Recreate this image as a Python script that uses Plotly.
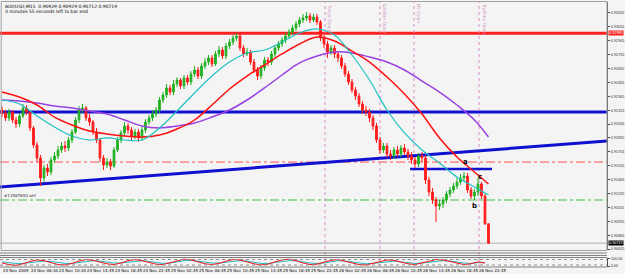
import plotly.graph_objects as go

# ---------------- data (AUDUSD, M15 chart, sampled every 30 min) ----------------
bar_open = [0.92157,0.92125,0.92071,0.92135,0.92049,0.92006,0.92092,0.92179,0.92135,0.91963,
            0.91779,0.91639,0.91423,0.91531,0.91487,0.91617,0.91660,0.91725,0.91768,0.91747,
            0.91833,0.91919,0.92049,0.92157,0.92179,0.92071,0.92027,0.91919,0.91833,0.91639,
            0.91563,0.91595,0.91552,0.91725,0.91833,0.91909,0.91984,0.91941,0.91876,0.91919,
            0.91855,0.91941,0.92027,0.92071,0.92114,0.92157,0.92265,0.92319,0.92395,0.92351,
            0.92438,0.92481,0.92416,0.92503,0.92459,0.92546,0.92589,0.92524,0.92632,0.92675,
            0.92719,0.92654,0.92762,0.92805,0.92740,0.92848,0.92891,0.92935,0.92956,0.92827,
            0.92762,0.92783,0.92675,0.92589,0.92524,0.92611,0.92697,0.92675,0.92762,0.92827,
            0.92870,0.92913,0.92956,0.92999,0.93043,0.93086,0.93129,0.93151,0.93172,0.93129,
            0.93161,0.93107,0.92935,0.92870,0.92783,0.92827,0.92762,0.92719,0.92632,0.92546,
            0.92459,0.92373,0.92308,0.92222,0.92157,0.92135,0.92071,0.91984,0.91833,0.91725,
            0.91768,0.91682,0.91660,0.91725,0.91682,0.91747,0.91703,0.91660,0.91617,0.91574,
            0.91660,0.91639,0.91401,0.91271,0.91185,0.91120,0.91142,0.91185,0.91250,0.91293,
            0.91336,0.91379,0.91423,0.91444,0.91293,0.91228,0.91271,0.91358,0.91228,0.90929]
bar_high = [0.92200,0.92157,0.92168,0.92157,0.92081,0.92125,0.92222,0.92211,0.92157,0.91984,
            0.91811,0.91671,0.91563,0.91574,0.91649,0.91703,0.91768,0.91811,0.91822,0.91865,
            0.91952,0.92081,0.92200,0.92222,0.92200,0.92114,0.92049,0.91963,0.91855,0.91671,
            0.91639,0.91628,0.91757,0.91865,0.91941,0.92027,0.92017,0.91973,0.91952,0.91952,
            0.91973,0.92060,0.92103,0.92157,0.92189,0.92297,0.92351,0.92438,0.92427,0.92481,
            0.92513,0.92503,0.92535,0.92535,0.92578,0.92632,0.92621,0.92665,0.92719,0.92751,
            0.92751,0.92794,0.92848,0.92837,0.92881,0.92924,0.92967,0.92989,0.92978,0.92859,
            0.92827,0.92805,0.92708,0.92621,0.92643,0.92729,0.92729,0.92794,0.92859,0.92902,
            0.92945,0.92989,0.93032,0.93075,0.93118,0.93161,0.93194,0.93215,0.93205,0.93194,
            0.93194,0.93129,0.92967,0.92902,0.92859,0.92859,0.92794,0.92751,0.92665,0.92578,
            0.92492,0.92405,0.92341,0.92254,0.92200,0.92168,0.92103,0.92017,0.91865,0.91801,
            0.91801,0.91725,0.91757,0.91768,0.91779,0.91790,0.91736,0.91703,0.91649,0.91693,
            0.91703,0.91671,0.91433,0.91315,0.91217,0.91185,0.91217,0.91282,0.91325,0.91369,
            0.91423,0.91466,0.91487,0.91477,0.91325,0.91304,0.91423,0.91379,0.91250,0.90929]
bar_low = [0.92081,0.92038,0.92038,0.92017,0.91963,0.91973,0.92071,0.92103,0.91930,0.91747,
           0.91595,0.91336,0.91379,0.91444,0.91455,0.91585,0.91628,0.91693,0.91703,0.91714,
           0.91801,0.91898,0.92017,0.92125,0.92038,0.91984,0.91887,0.91801,0.91595,0.91509,
           0.91531,0.91509,0.91531,0.91703,0.91801,0.91876,0.91898,0.91833,0.91844,0.91811,
           0.91822,0.91909,0.91995,0.92038,0.92081,0.92125,0.92233,0.92287,0.92319,0.92319,
           0.92405,0.92384,0.92384,0.92427,0.92427,0.92513,0.92492,0.92492,0.92600,0.92643,
           0.92621,0.92632,0.92729,0.92708,0.92708,0.92816,0.92859,0.92902,0.92794,0.92729,
           0.92740,0.92643,0.92557,0.92481,0.92492,0.92578,0.92632,0.92643,0.92729,0.92794,
           0.92837,0.92881,0.92924,0.92967,0.93010,0.93053,0.93097,0.93118,0.93097,0.93107,
           0.93075,0.92902,0.92827,0.92719,0.92751,0.92719,0.92675,0.92600,0.92513,0.92427,
           0.92341,0.92265,0.92189,0.92114,0.92092,0.92027,0.91941,0.91801,0.91682,0.91693,
           0.91639,0.91617,0.91628,0.91649,0.91649,0.91671,0.91617,0.91574,0.91531,0.91541,
           0.91595,0.91358,0.91228,0.91142,0.90947,0.91077,0.91099,0.91153,0.91217,0.91261,
           0.91304,0.91347,0.91390,0.91261,0.91196,0.91185,0.91228,0.91196,0.90915,0.90712]
bar_close = [0.92125,0.92071,0.92135,0.92049,0.92006,0.92092,0.92179,0.92135,0.91963,0.91779,
             0.91639,0.91423,0.91531,0.91487,0.91617,0.91660,0.91725,0.91768,0.91747,0.91833,
             0.91919,0.92049,0.92157,0.92179,0.92071,0.92027,0.91919,0.91833,0.91639,0.91563,
             0.91595,0.91552,0.91725,0.91833,0.91909,0.91984,0.91941,0.91876,0.91919,0.91855,
             0.91941,0.92027,0.92071,0.92114,0.92157,0.92265,0.92319,0.92395,0.92351,0.92438,
             0.92481,0.92416,0.92503,0.92459,0.92546,0.92589,0.92524,0.92632,0.92675,0.92719,
             0.92654,0.92762,0.92805,0.92740,0.92848,0.92891,0.92935,0.92956,0.92827,0.92762,
             0.92783,0.92675,0.92589,0.92524,0.92611,0.92697,0.92675,0.92762,0.92827,0.92870,
             0.92913,0.92956,0.92999,0.93043,0.93086,0.93129,0.93151,0.93172,0.93129,0.93161,
             0.93107,0.92935,0.92870,0.92783,0.92827,0.92762,0.92719,0.92632,0.92546,0.92459,
             0.92373,0.92308,0.92222,0.92157,0.92135,0.92071,0.91984,0.91833,0.91725,0.91768,
             0.91682,0.91660,0.91725,0.91682,0.91747,0.91703,0.91660,0.91617,0.91574,0.91660,
             0.91639,0.91401,0.91271,0.91185,0.91120,0.91142,0.91185,0.91250,0.91293,0.91336,
             0.91379,0.91423,0.91444,0.91293,0.91228,0.91271,0.91358,0.91228,0.90929,0.90719]
bar_index = list(range(len(bar_close)))

# moving averages (bar index, price)
ma_index = [0,5,10,15,20,25,30,35,40,45,50,55,60,65,70,75,80,85,90,95,100,105,110,115,120,125,130,135,139]
ma_red = [0.92351,0.92297,0.92211,0.92081,0.91995,0.91930,0.91898,0.91876,0.91865,0.91887,
          0.91952,0.92049,0.92211,0.92384,0.92524,0.92643,0.92762,0.92870,0.92945,0.92902,
          0.92794,0.92675,0.92513,0.92330,0.92114,0.91855,0.91649,0.91487,0.91358]
ma_cyan = [0.92265,0.92222,0.92092,0.91973,0.91876,0.91833,0.91855,0.91833,0.91833,0.91963,
           0.92146,0.92341,0.92524,0.92675,0.92773,0.92805,0.92891,0.92989,0.93032,0.92967,
           0.92751,0.92481,0.92157,0.91909,0.91725,0.91585,0.91433,0.91325,0.91239]
ma_purple = [0.92265,0.92254,0.92233,0.92200,0.92179,0.92146,0.92114,0.92049,0.91984,0.91963,
             0.91984,0.92017,0.92081,0.92157,0.92265,0.92395,0.92535,0.92665,0.92740,0.92783,
             0.92773,0.92729,0.92675,0.92589,0.92470,0.92351,0.92211,0.92049,0.91865]

# drawn objects
resistance_price = 0.92985
support_price = 0.92135
trend_bars = [-0.6, 172.9]
trend_prices = [0.91325, 0.91822]
short_line_bars = [116.6, 140.0]
short_line_price = 0.91520
stop_price = 0.91595
order_price = 0.91185
bid_price = 0.90719
order_text = "#11567640 sell"

event_names = ["Tokyo Open", "London Open", "NY Open", "Sydney Open"]
event_bars = [92.3, 108.0, 117.7, 136.3]

point_names = ["a", "b", "c"]
point_bars = [132.4, 134.9, 136.5]
point_prices = [0.91595, 0.91120, 0.91433]

price_ticks = [0.93205,0.93055,0.92905,0.92755,0.92605,0.92455,0.92305,0.92155,0.92005,
               0.91855,0.91705,0.91555,0.91405,0.91255,0.91105,0.90955,0.90805,0.90655]
time_tick_bars = [0,8,16,24,32,40,48,56,64,72,80,88,96,104,112,120,128,136]
time_tick_labels = ["24 Nov 2009","24 Nov 06:30","24 Nov 10:30","24 Nov 14:45","24 Nov 18:45",
                    "24 Nov 22:45","25 Nov 02:45","25 Nov 06:45","25 Nov 10:45","25 Nov 14:45",
                    "25 Nov 18:45","25 Nov 22:45","26 Nov 02:45","26 Nov 06:45","26 Nov 10:45",
                    "26 Nov 14:45","26 Nov 18:45","26 Nov 22:45"]

osc_index = list(range(0, 140, 2))
osc_red = [40,20,10,30,60,80,70,40,20,15,35,65,85,75,50,30,20,40,70,85,70,45,25,20,45,75,90,80,55,30,
           20,35,65,85,80,55,30,15,25,55,80,90,70,40,20,25,50,75,85,65,40,20,15,35,60,80,75,50,30,20,
           40,65,85,80,60,35,20,30,55,40]
osc_cyan = [55,45,35,35,45,60,65,60,45,35,35,45,60,70,65,50,40,40,50,65,70,60,45,35,40,55,70,75,65,50,
            40,40,50,65,70,65,50,35,35,45,60,70,70,55,40,35,40,55,70,65,55,40,30,35,45,60,65,55,45,35,
            40,50,65,70,65,50,40,35,45,45]

# ---------------- figure ----------------
W, H = 625, 274
SMALL = dict(family="Liberation Sans", size=3.8)

def py(pix):  # paper y from pixel row
    return (H - pix) / H

fig = go.Figure()

fig.add_trace(go.Candlestick(
    x=bar_index, open=bar_open, high=bar_high, low=bar_low, close=bar_close,
    increasing=dict(line=dict(color="#22b022", width=1), fillcolor="#22b022"),
    decreasing=dict(line=dict(color="#ff1a1a", width=1), fillcolor="#ff1a1a"),
    whiskerwidth=0, hoverinfo="skip", xaxis="x", yaxis="y"))

for vals, col, wd in [(ma_purple, "#9a40e0", 1.5), (ma_red, "#ff1010", 1.5), (ma_cyan, "#20c0c0", 1.2)]:
    fig.add_trace(go.Scatter(x=ma_index, y=vals, mode="lines", line=dict(color=col, width=wd, shape="spline"),
                             hoverinfo="skip", xaxis="x", yaxis="y"))

fig.add_trace(go.Scatter(x=osc_index, y=osc_cyan, mode="lines", line=dict(color="#20b8c8", width=1),
                         hoverinfo="skip", xaxis="x", yaxis="y2"))
fig.add_trace(go.Scatter(x=osc_index, y=osc_red, mode="lines", line=dict(color="#ff1010", width=1),
                         hoverinfo="skip", xaxis="x", yaxis="y2"))

shapes = []
shapes.append(dict(type="line", xref="paper", x0=0, x1=1, yref="y", y0=resistance_price, y1=resistance_price,
                   line=dict(color="#ff2020", width=3), layer="below"))
shapes.append(dict(type="line", xref="paper", x0=0, x1=1, yref="y", y0=support_price, y1=support_price,
                   line=dict(color="#1010d0", width=3), layer="below"))
shapes.append(dict(type="line", xref="x", x0=trend_bars[0], x1=trend_bars[1], yref="y",
                   y0=trend_prices[0], y1=trend_prices[1], line=dict(color="#1010d0", width=3), layer="below"))
shapes.append(dict(type="line", xref="x", x0=short_line_bars[0], x1=short_line_bars[1], yref="y",
                   y0=short_line_price, y1=short_line_price, line=dict(color="#1010d0", width=2.5), layer="below"))
shapes.append(dict(type="line", xref="paper", x0=0, x1=1, yref="y", y0=stop_price, y1=stop_price,
                   line=dict(color="#ff5050", width=1, dash="dashdot"), layer="below"))
shapes.append(dict(type="line", xref="paper", x0=0, x1=1, yref="y", y0=order_price, y1=order_price,
                   line=dict(color="#40c040", width=1, dash="dashdot"), layer="below"))
shapes.append(dict(type="line", xref="paper", x0=0, x1=1, yref="y", y0=bid_price, y1=bid_price,
                   line=dict(color="#b0b0b0", width=1), layer="below"))
for b in event_bars:
    shapes.append(dict(type="line", xref="x", x0=b, x1=b, yref="paper", y0=py(267), y1=py(2),
                       line=dict(color="#d890c8", width=1, dash="dot"), layer="below"))
shapes.append(dict(type="rect", xref="paper", x0=0.002, x1=1, yref="paper", y0=py(250.5), y1=py(1.5),
                   line=dict(color="#a0a0a0", width=1)))
for r in [253, 255.5, 257.5, 267]:
    shapes.append(dict(type="line", xref="paper", x0=0, x1=1, yref="paper", y0=py(r), y1=py(r),
                       line=dict(color="#808080", width=1)))
for r in [259.5, 265]:
    shapes.append(dict(type="line", xref="paper", x0=0, x1=1, yref="paper", y0=py(r), y1=py(r),
                       line=dict(color="#909090", width=1, dash="dot")))

ann = []
ann.append(dict(text="AUDUSD,M15  0.90929 0.90929 0.90712 0.90719", xref="paper", yref="paper",
                x=3/607, y=py(1.5), xanchor="left", yanchor="top", showarrow=False,
                font=dict(family="DejaVu Sans", size=4.5, color="#000")))
ann.append(dict(text="3 minutes 55 seconds left to bar end", xref="paper", yref="paper",
                x=3/607, y=py(7), xanchor="left", yanchor="top", showarrow=False,
                font=dict(family="DejaVu Sans", size=4.5, color="#000")))
ann.append(dict(text=order_text, xref="paper", yref="y", x=2/607, y=order_price, xanchor="left",
                yanchor="bottom", showarrow=False, font=dict(family="DejaVu Sans", size=4, color="#303030")))
for name, b in zip(event_names, event_bars):
    ann.append(dict(text=name, xref="x", yref="paper", x=b, y=py(2), xanchor="left", yanchor="top",
                    textangle=90, showarrow=False, font=dict(family="DejaVu Sans", size=4.5, color="#d090c0")))
for name, b, p in zip(point_names, point_bars, point_prices):
    ann.append(dict(text="<b>%s</b>" % name, xref="x", yref="y", x=b, y=p, showarrow=False,
                    font=dict(family="DejaVu Sans", size=7, color="#000")))
for b, lab in zip(time_tick_bars, time_tick_labels):
    ann.append(dict(text=lab, xref="x", yref="paper", x=b, y=py(270.5), xanchor="left", yanchor="middle",
                    showarrow=False, xshift=-1, font=dict(family="DejaVu Sans", size=4, color="#000")))
ann.append(dict(text="%.5f" % resistance_price, xref="paper", yref="y", x=1, y=resistance_price,
                xanchor="left", yanchor="middle", showarrow=False, xshift=1, bgcolor="#ff2020",
                font=dict(SMALL, color="#fff"), borderpad=0))
ann.append(dict(text="%.5f" % bid_price, xref="paper", yref="y", x=1, y=bid_price,
                xanchor="left", yanchor="middle", showarrow=False, xshift=1, bgcolor="#000",
                font=dict(SMALL, color="#fff"), borderpad=0))

fig.update_layout(
    width=W, height=H, margin=dict(l=0, r=18, t=0, b=0),
    paper_bgcolor="#f4f4f4", plot_bgcolor="#f4f4f4", showlegend=False,
    font=dict(family="DejaVu Sans", size=4.5, color="#222"),
    shapes=shapes, annotations=ann,
    xaxis=dict(range=[-0.571, 172.86], showticklabels=False, showgrid=False, zeroline=False,
               rangeslider=dict(visible=False), anchor="y", fixedrange=True),
    yaxis=dict(domain=[py(250), py(2)], range=[0.93345 - 0.000108*250, 0.93345 - 0.000108*2],
               side="right", tickvals=price_ticks, ticktext=["%.5f" % t for t in price_ticks],
               ticks="outside", ticklen=2, tickcolor="#505050", showline=True, linecolor="#505050",
               linewidth=1, showgrid=False, zeroline=False, automargin=False, ticklabelstandoff=0,
               tickfont=dict(SMALL, color="#303030")),
    yaxis2=dict(domain=[py(266.5), py(258)], range=[-5, 105], side="right", anchor="x",
                tickvals=[100, 0], ticktext=["100.00", "0.00"], ticks="outside", ticklen=2,
                tickcolor="#505050", showline=True, linecolor="#505050", showgrid=False,
                zeroline=False, automargin=False, ticklabelstandoff=0,
                tickfont=dict(SMALL, color="#303030")),
)

fig.write_html("out.html")
